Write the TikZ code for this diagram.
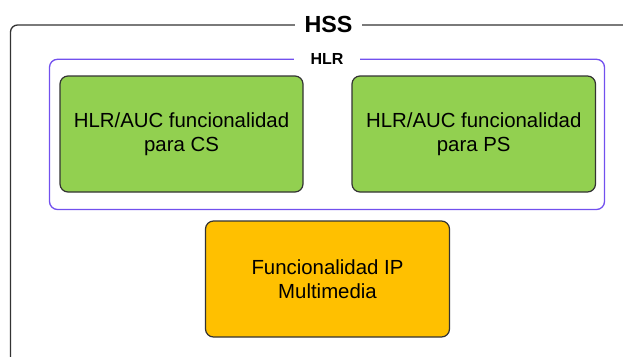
\documentclass[tikz,border=0pt]{standalone}
\usepackage{fontspec}
\setmainfont{Liberation Sans}
\definecolor{funcgreen}{HTML}{92D050}
\definecolor{funcorange}{HTML}{FFC000}
\definecolor{hlrpurple}{HTML}{7250EE}
\definecolor{edgegray}{HTML}{333333}
\begin{document}
\begin{tikzpicture}[x=1pt, y=-1pt,
  funcbox/.style={draw=edgegray, line width=1.2pt, rounded corners=8pt,
    inner sep=0pt, align=center, font=\fontsize{20.4}{24}\selectfont},
  grouplabel/.style={fill=white, inner ysep=0pt, font=\bfseries, anchor=base}]
  \useasboundingbox (0,0) rectangle (623,356);
  \clip (0,0) rectangle (623,356);

  % outer HSS frame, running off the right and bottom edges
  \node[draw=edgegray, line width=1.3pt, rounded corners=7pt,
        minimum width=629.5pt, minimum height=355pt, inner sep=0pt]
        (hss) at (325.25,202.5) {};
  \node[grouplabel, inner xsep=9.5pt, font=\bfseries\fontsize{23.3}{26}\selectfont]
        (hsslabel) at (328.5,32) {HSS};

  % HLR group
  \node[draw=hlrpurple, line width=1.3pt, rounded corners=8pt,
        minimum width=555pt, minimum height=150.2pt, inner sep=0pt]
        (hlr) at (327,134.4) {};
  \node[grouplabel, inner xsep=16.5pt, font=\bfseries\fontsize{16}{19}\selectfont]
        (hlrlabel) at (327,64) {HLR};

  % functional blocks
  \node[funcbox, fill=funcgreen, minimum width=243pt, minimum height=116pt]
        (cs) at (181.5,134) {HLR/AUC funcionalidad\\para CS};
  \node[funcbox, fill=funcgreen, minimum width=243.5pt, minimum height=116pt]
        (ps) at (473.75,134) {HLR/AUC funcionalidad\\para PS};
  \node[funcbox, fill=funcorange, minimum width=244pt, minimum height=116pt]
        (ipmm) at (327.5,279) {Funcionalidad IP\\Multimedia};
\end{tikzpicture}
\end{document}
